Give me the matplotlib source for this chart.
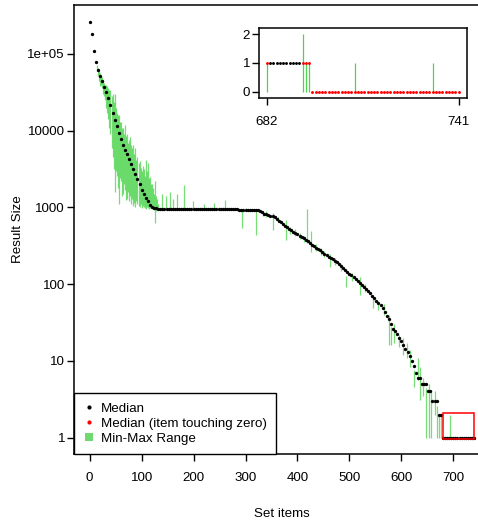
import matplotlib
matplotlib.use("Agg")
import matplotlib.pyplot as plt
from matplotlib.lines import Line2D
from matplotlib.patches import Rectangle
import numpy as np

plt.rcParams["font.family"] = ["Liberation Sans", "DejaVu Sans"]

# median result size, read every 4th set item (0, 4, ..., 740)
med_items = np.arange(0, 741, 4)
med_vals = [
    260000, 183000, 108000, 78000, 61000, 52000, 44000, 37500, 32000, 26500,
    21500, 17000, 13800, 11400, 9300, 7800, 6600, 5600, 4900, 4300,
    3700, 3200, 2750, 2350, 2000, 1700, 1480, 1320, 1200, 1080,
    1020, 990, 975, 965, 962, 960, 960, 958, 958, 957,
    957, 956, 956, 955, 955, 955, 954, 954, 953, 953,
    953, 952, 952, 951, 951, 950, 950, 950, 949, 949,
    948, 948, 947, 947, 946, 946, 945, 945, 944, 943,
    942, 941, 940, 938, 937, 935, 933, 931, 929, 926,
    922, 915, 895, 860, 830, 810, 795, 780, 765, 748,
    715, 675, 640, 610, 580, 555, 528, 505, 485, 465,
    450, 430, 412, 395, 380, 365, 345, 325, 312, 298,
    286, 276, 262, 250, 238, 228, 218, 210, 202, 195,
    182, 172, 162, 152, 144, 137, 130, 123, 117, 111,
    105, 99, 93, 87, 81, 76, 71, 66, 61, 57,
    53, 49, 44, 39, 35, 30, 26, 24.5, 22.5, 20,
    18, 16.3, 14.5, 13, 11.5, 10, 8.5, 7, 6, 6,
    5, 5, 5, 4, 4, 3, 3, 3, 2, 2,
    1, 1, 1, 1, 1, 1, 1, 1, 1, 1, 1, 1, 1, 1, 1, 1,
]

# min-max range of items (only where it differs visibly from the median)
rng_items = [
    14, 16, 18, 20, 22, 24, 26, 28, 30, 32, 34, 36, 38, 40, 42, 44, 46, 48,
    50, 52, 54, 56, 58, 60, 62, 64, 66, 68, 70, 72, 74, 76, 78, 80, 82, 84,
    86, 88, 90, 92, 94, 96, 98, 100, 102, 104, 106, 108, 110, 112, 114, 116,
    118, 120, 122, 124, 126, 128, 130, 132,
    140, 146, 154, 160, 168, 182, 198, 220, 240, 260, 294, 300, 320,
    334, 340, 353, 362, 377, 386, 395, 404, 412, 419, 427, 436, 445, 452,
    462, 472, 484, 494, 505, 520, 530, 545, 556, 566, 576, 580, 586, 596,
    604, 610, 616, 625, 632, 636, 641, 648, 653, 658, 664, 669, 673, 677, 693,
]
rng_lo = [
    60000, 52000, 45000, 38000, 40000, 36000, 30000, 28000, 25000, 20000,
    17000, 14000, 11000, 9000, 6000, 4500, 3200, 1600,
    3000, 2600, 1800, 1100, 2400, 2200, 1400, 1500, 2000, 1700, 1250, 1300,
    1600, 1200, 1400, 1100, 1300, 1050,
    1150, 1000, 1200, 1100, 1050, 1000, 1100, 980, 1050, 1000, 990, 960,
    1000, 980, 960, 970,
    990, 960, 950, 940, 620, 900, 930, 950,
    940, 950, 950, 950, 940, 950, 940, 930, 940, 950, 537, 900, 440,
    780, 740, 510, 640, 380, 450, 420, 390, 350, 340, 265, 270, 240, 225,
    170, 180, 150, 93, 110, 72, 80, 49, 46, 40, 16, 16, 17, 15,
    12, 11, 8.4, 4.6, 5.6, 3.1, 3.5, 1, 1, 1, 2, 1, 1, 1, 1,
]
rng_hi = [
    72000, 66000, 60000, 56000, 52000, 50000, 46000, 42000, 40000, 40000,
    38000, 36000, 34000, 34000, 28000, 30000, 24000, 30000,
    20000, 17000, 16000, 16000, 13000, 13000, 11000, 11000, 9000, 12000,
    8500, 9000, 7000, 7500, 8400, 6500, 6000, 6600,
    5000, 6000, 4200, 4500, 3800, 4000, 3300, 3000, 3500, 3200, 2600, 4200,
    3000, 3800, 2400, 2500,
    2000, 2000, 1800, 1500, 2200, 1400, 1300, 1100,
    1500, 1400, 1600, 1300, 1500, 1970, 1200, 1100, 1150, 1260, 960, 980, 940,
    900, 900, 850, 760, 680, 560, 520, 470, 430, 950, 500, 330, 300, 270,
    250, 220, 185, 127, 140, 125, 100, 69, 60, 55, 40, 28, 30, 22,
    20, 17, 14, 7.6, 11, 8.4, 6, 4.4, 5, 4.2, 4, 2.6, 2, 2, 2,
]

# zoomed tail: items 682..741
tail_items = np.arange(682, 742)
tail_med = [1] * 14 + [0] * 46
tail_rng_items = [682, 693, 694, 695, 709, 733]
tail_rng_lo = [0, 0, 0, 0, 0, 0]
tail_rng_hi = [1, 2, 1, 1, 1, 1]

green = "#2ecc2e"

fig = plt.figure(figsize=(4.78, 5.25), dpi=100)
ax = fig.add_axes([74 / 478, 1 - 454 / 525, (478 - 74) / 478, (454 - 5) / 525])

ax.vlines(rng_items, rng_lo, rng_hi, colors=green, alpha=0.65, lw=0.9, zorder=1)
ax.plot(med_items, med_vals, ls="none", marker="o", ms=2.4, color="black",
        mew=0, zorder=2)
ax.add_patch(Rectangle((680, 0.96), 60, 2.1 - 0.96, fill=False, ec="red",
                       lw=1.1, zorder=3))

ax.set_yscale("log")
ax.set_xlim(-30.2, 747.6)
ax.set_ylim(0.613, 434600)
ax.set_yticks([1, 10, 100, 1000, 10000, 100000])
ax.set_yticklabels(["1", "10", "100", "1000", "10000", "1e+05"])
ax.yaxis.set_minor_locator(matplotlib.ticker.NullLocator())
ax.set_xticks(range(0, 701, 100))
ax.tick_params(axis="both", direction="out", length=5, width=1, labelsize=9.6)
ax.tick_params(axis="x", pad=8)
ax.tick_params(axis="y", pad=1.5)
ax.spines["right"].set_visible(False)
for s in ("left", "bottom", "top"):
    ax.spines[s].set_linewidth(1.1)

fig.text(18 / 478, 1 - 229.5 / 525, "Result Size", rotation=90,
         ha="center", va="center", fontsize=9.6)
fig.text(281.8 / 478, 1 - 514 / 525, "Set items", ha="center", va="center",
         fontsize=9.6)

handles = [
    Line2D([], [], ls="none", marker="o", ms=3, color="black", mew=0),
    Line2D([], [], ls="none", marker="o", ms=3, color="red", mew=0),
    Line2D([], [], ls="none", marker="s", ms=5.5, color="#6fd86f", mew=0),
]
leg = ax.legend(handles, ["Median", "Median (item touching zero)", "Min-Max Range"],
                loc="lower left", bbox_to_anchor=(0, 0), borderaxespad=0,
                fancybox=False, edgecolor="black", framealpha=1,
                handlelength=0.8, handletextpad=0.5, borderpad=0.7,
                labelspacing=0.2, fontsize=9.6)
leg.get_frame().set_linewidth(1.0)

# inset with the tail of the distribution
axi = fig.add_axes([259 / 478, 1 - 97.7 / 525, 207.7 / 478, 69.4 / 525])
axi.vlines(tail_rng_items, tail_rng_lo, tail_rng_hi, colors=green, alpha=0.85,
           lw=0.9, zorder=1)
zero_touch = [m == 0 or (it in tail_rng_items and tail_rng_lo[tail_rng_items.index(it)] == 0)
              for it, m in zip(tail_items, tail_med)]
zero_touch = np.array(zero_touch)
tail_med = np.array(tail_med)
axi.plot(tail_items[~zero_touch], tail_med[~zero_touch], ls="none", marker="o",
         ms=2.1, color="black", mew=0, zorder=2)
axi.plot(tail_items[zero_touch], tail_med[zero_touch], ls="none", marker="o",
         ms=2.1, color="red", mew=0, zorder=2)
axi.set_xlim(679.6, 743.5)
axi.set_ylim(-0.21, 2.2)
axi.set_xticks([682, 741])
axi.set_yticks([0, 1, 2])
axi.tick_params(axis="both", direction="out", length=5, width=1, labelsize=9.6)
axi.tick_params(axis="x", pad=8)
axi.tick_params(axis="y", pad=1.5)
for s in axi.spines.values():
    s.set_linewidth(1.1)

fig.savefig("out.png", dpi=100)
